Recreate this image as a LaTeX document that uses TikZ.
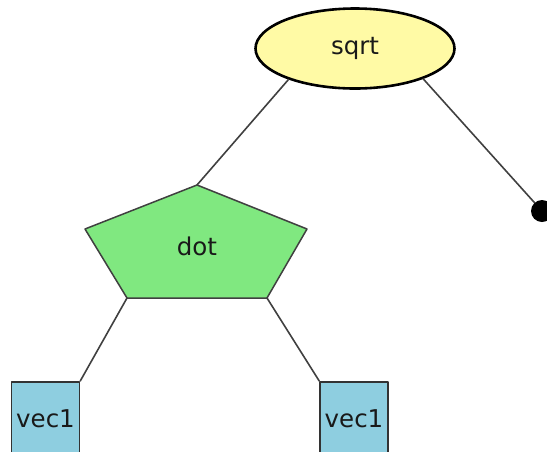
\documentclass[tikz,border=0pt]{standalone}
\usepackage{fontspec}
\setmainfont{DejaVu Sans}
\usetikzlibrary{shapes.geometric}

\definecolor{opyellow}{RGB}{255,250,165}
\definecolor{opgreen}{RGB}{128,232,128}
\definecolor{leafblue}{RGB}{142,206,224}

\begin{document}
\begin{tikzpicture}[x=1pt, y=-1pt, line join=round, line cap=round,
    edge/.style={draw=black!75, line width=1.6pt},
    lbl/.style={font=\fontsize{24.5}{29}\selectfont, text=black!90},
    opnode/.style={lbl, ellipse, draw=black, line width=2.6pt, fill=opyellow,
        minimum width=199pt, minimum height=80pt, inner sep=0pt},
    leaf/.style={lbl, rectangle, draw=black!80, line width=1.5pt, fill=leafblue,
        minimum width=68pt, minimum height=74pt, inner sep=0pt, anchor=north}]

    \useasboundingbox (0,0) rectangle (547,451);

    % root
    \node[opnode] (sqrt) at (355,48.5) {sqrt};

    % pentagon for the dot product
    \filldraw[fill=opgreen, draw=black!75, line width=1.5pt]
        (197,185) coordinate (dot-t) -- (307,229) coordinate (dot-r)
        -- (267,298) coordinate (dot-br) -- (127,298) coordinate (dot-bl)
        -- (85,229) coordinate (dot-l) -- cycle;
    \node[lbl] (dot) at (197,246) {dot};

    % leaves
    \node[leaf] (vecA) at (45.5,381) {vec1};
    \node[leaf] (vecB) at (354,381) {vec1};
    \node[circle, fill=black, minimum size=22pt, inner sep=0pt] (nil) at (542,211) {};

    % edges
    \draw[edge] (sqrt.-155.5) -- (dot-t);
    \draw[edge] (sqrt.-24.5) -- (nil);
    \draw[edge] (dot-bl) -- (vecA.north east);
    \draw[edge] (dot-br) -- (vecB.north west);
\end{tikzpicture}
\end{document}
